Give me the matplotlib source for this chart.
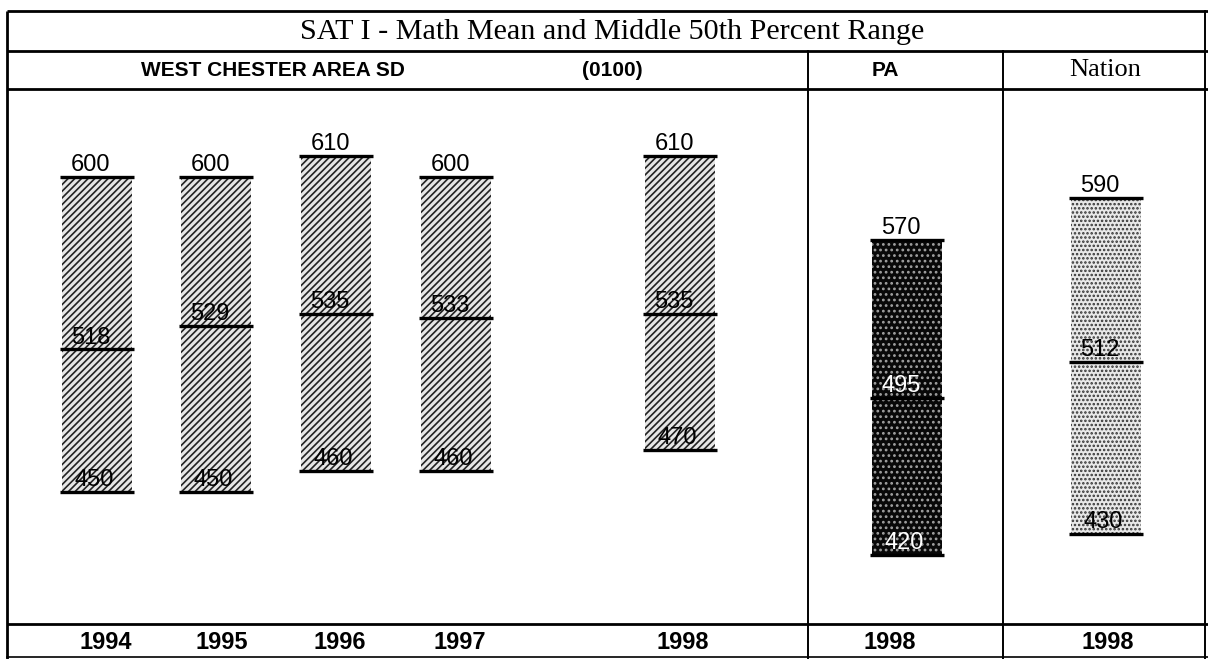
import matplotlib
matplotlib.use("Agg")
import matplotlib.pyplot as plt

# ---- data ----
categories = ["1994", "1995", "1996", "1997", "1998", "PA 1998", "Nation 1998"]
year_labels = ["1994", "1995", "1996", "1997", "1998", "1998", "1998"]
high_vals = [600, 600, 610, 600, 610, 570, 590]
mean_vals = [518, 529, 535, 533, 535, 495, 512]
low_vals = [450, 450, 460, 460, 470, 420, 430]

title_text = "SAT I - Math Mean and Middle 50th Percent Range"
district_text = "WEST CHESTER AREA SD"
district_code = "(0100)"
pa_text = "PA"
nation_text = "Nation"

# ---- layout (pixel units) ----
W, H = 1208, 659
bar_x = [97, 216, 336, 456, 680, 907, 1106]
bar_w = 70
year_x = [106, 222, 340, 460, 683, 890, 1108]
styles = ["district"] * 5 + ["pa", "nation"]

plt.rcParams["hatch.linewidth"] = 1.2
narrow_bold = ["Liberation Sans Narrow", "Liberation Sans", "DejaVu Sans"]
sans = ["Liberation Sans", "DejaVu Sans"]
serif = ["Liberation Serif", "DejaVu Serif"]

fig = plt.figure(figsize=(W / 100, H / 100), dpi=100)
fig.patch.set_facecolor("white")

# frame / table axes in pixel coordinates
fr = fig.add_axes([0, 0, 1, 1])
fr.set_xlim(0, W)
fr.set_ylim(H, 0)
fr.axis("off")

y_top, y_t2, y_t3, y_bot = 11, 51, 89, 624
x_left, x_d1, x_d2, x_right = 7, 808, 1003, 1205
lk = dict(color="black", lw=2.0, solid_capstyle="butt")
fr.plot([x_left, W], [y_top, y_top], **lk)
fr.plot([x_left, W], [y_t2, y_t2], **lk)
fr.plot([x_left, W], [y_t3, y_t3], **lk)
fr.plot([x_left, W], [y_bot, y_bot], **lk)
fr.plot([x_left, W], [H - 2, H - 2], color="black", lw=1.2)
fr.plot([x_left, x_left], [y_top, H], **lk)
fr.plot([x_d1, x_d1], [y_t2, H], color="black", lw=1.4)
fr.plot([x_d2, x_d2], [y_t2, H], color="black", lw=1.4)
fr.plot([x_right, x_right], [y_top, H], color="black", lw=1.4)

fr.text(612, (y_top + y_t2) / 2 + 1, title_text, ha="center", va="center",
        fontsize=21.7, family=serif)
fr.text(273, (y_t2 + y_t3) / 2 + 1, district_text, ha="center", va="center",
        fontsize=15, fontweight="bold", family=sans)
fr.text(612, (y_t2 + y_t3) / 2, district_code, ha="center", va="center",
        fontsize=15, fontweight="bold", family=sans)
fr.text(885, (y_t2 + y_t3) / 2, pa_text, ha="center", va="center",
        fontsize=15, fontweight="bold", family=sans)
fr.text(1105, (y_t2 + y_t3) / 2, nation_text, ha="center", va="center",
        fontsize=19, family=serif)
for xx, lab in zip(year_x, year_labels):
    fr.text(xx, (y_bot + H) / 2 + 1, lab, ha="center", va="center",
            fontsize=17, fontweight="bold", family=sans)

# data axes
px_per_pt = 2.1
y600 = 177
ymax = 600 + (y600 - y_t3) / px_per_pt
ymin = 600 - (y_bot - y600) / px_per_pt
ax = fig.add_axes([0, 1 - y_bot / H, 1, (y_bot - y_t3) / H])
ax.set_xlim(0, W)
ax.set_ylim(ymin, ymax)
ax.axis("off")
ax.patch.set_alpha(0)

style_map = {
    "district": dict(facecolor="#e6e6e6", edgecolor="#222222", hatch="/////"),
    "pa": dict(facecolor="#080808", edgecolor="#a0a0a0", hatch="..."),
    "nation": dict(facecolor="#e8e8e8", edgecolor="#333333", hatch="...."),
}

for x, hi, me, lo, st in zip(bar_x, high_vals, mean_vals, low_vals, styles):
    ax.bar(x, hi - lo, bottom=lo, width=bar_w, linewidth=0, **style_map[st])
    ax.hlines([hi, me, lo], x - bar_w / 2 - 2, x + bar_w / 2 + 2,
              color="black", lw=2.4)
    inner_col = "white" if st == "pa" else "black"
    ax.text(x - 6, hi + 0.3, str(hi), ha="center", va="bottom",
            fontsize=17, family=sans, color="black")
    ax.text(x - 6, me + 0.3, str(me), ha="center", va="bottom",
            fontsize=17, family=sans, color=inner_col)
    ax.text(x - 3, lo + 0.3, str(lo), ha="center", va="bottom",
            fontsize=17, family=sans, color=inner_col)

fig.savefig("out.png", dpi=100, facecolor="white")
